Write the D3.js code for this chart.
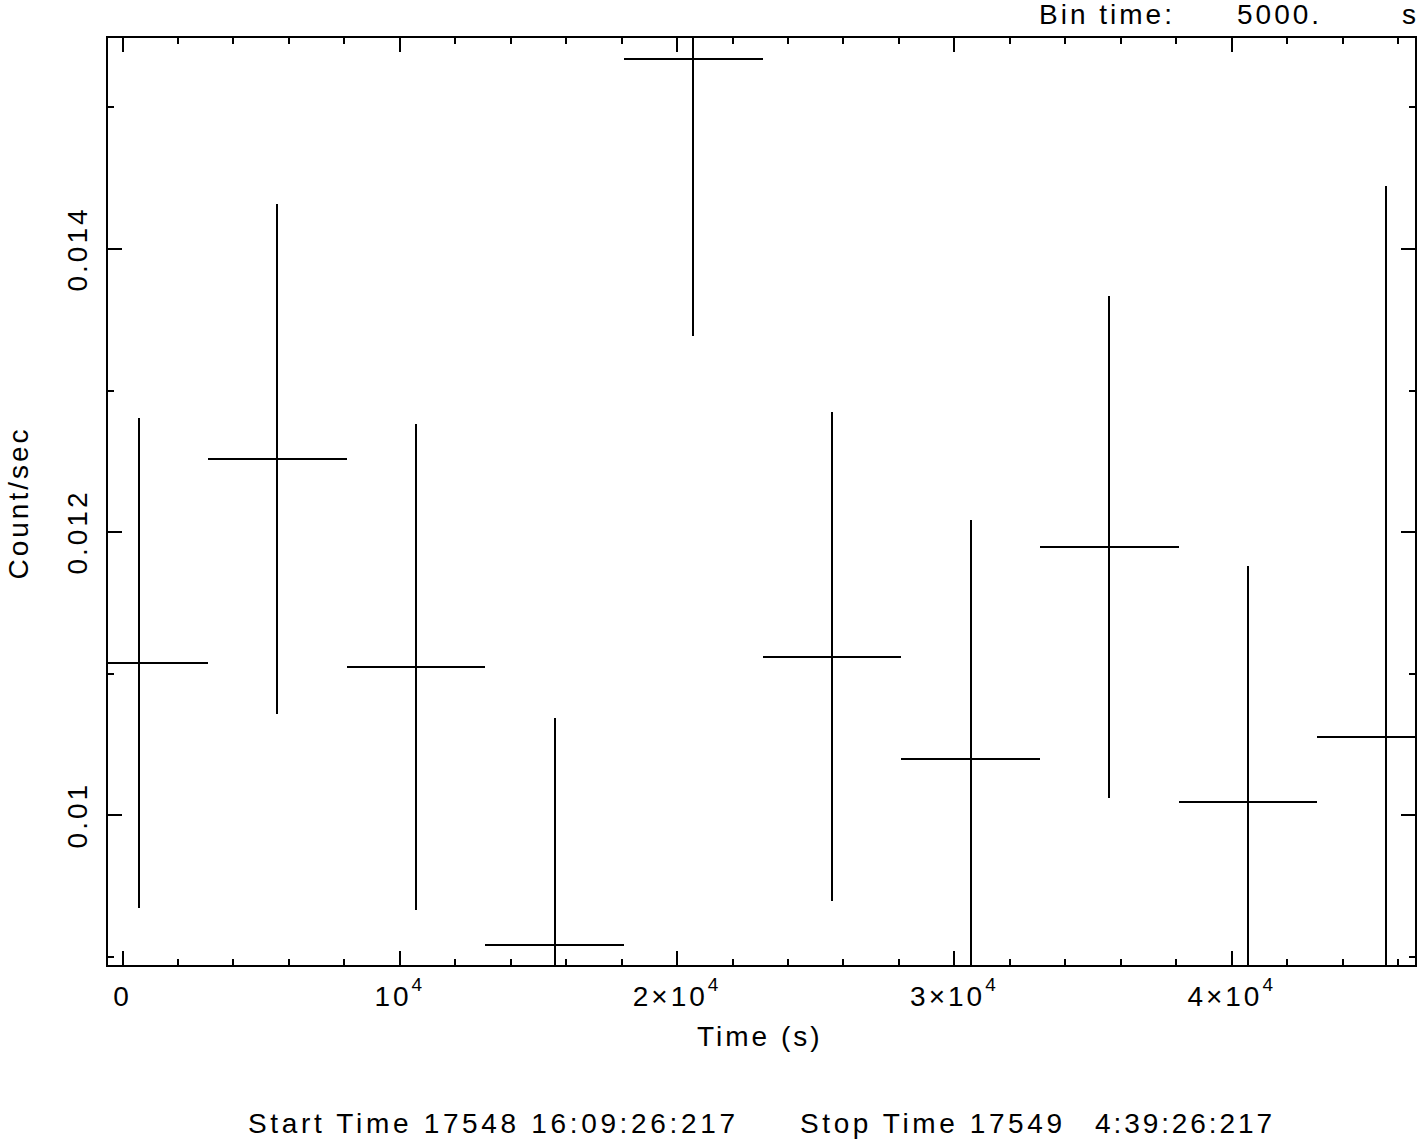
<!DOCTYPE html>
<html>
<head>
    <meta charset="utf-8">
    <title>Light curve, 5000 s bins</title>
    <style>
        body {
            margin: 0;
            background: #fff;
        }
        svg {
            display: block;
            background: #fff;
        }
        text {
            font-family: "Liberation Sans", Arial, sans-serif;
            font-size: 28px;
            letter-spacing: 3px;
            fill: #000;
        }
        .frame, .errbar, .tick line {
            stroke: #000;
            stroke-width: 2px;
            shape-rendering: crispEdges;
        }
    </style>
</head>
<body>
    <script src="https://d3js.org/d3.v7.min.js"></script>
    <script>
        // Bin centres (s), count rates and 1-sigma errors
        var binCenters = [600, 5600, 10600, 15600, 20600, 25600, 30600, 35600, 40600, 45600];
        var rates = [0.011072, 0.012513, 0.011043, 0.009082, 0.015339, 0.011116, 0.010391, 0.011892, 0.010088, 0.010549];
        var rateErrors = [0.001731, 0.001801, 0.001717, 0.001602, 0.001955, 0.001729, 0.001688, 0.001773, 0.001669, 0.003893];
        var binHalfWidth = 2500;

        // Axis limits
        var timeRange = [-541, 46664];
        var rateRange = [0.008931, 0.015494];

        // Ticks and their labels
        var xMajorTicks = [0, 10000, 20000, 30000, 40000];
        var xMinorTicks = [2000, 4000, 6000, 8000, 12000, 14000, 16000, 18000, 22000, 24000, 26000, 28000,
                           32000, 34000, 36000, 38000, 42000, 44000, 46000];
        var xTickBase = ["0", "10", "2\u00d710", "3\u00d710", "4\u00d710"];
        var xTickSup = ["", "4", "4", "4", "4"];
        var yMajorTicks = [0.010, 0.012, 0.014];
        var yMinorTicks = [0.009, 0.011, 0.013, 0.015];
        var yTickLabels = ["0.01", "0.012", "0.014"];

        var width = 1418;
        var height = 1140;
        // plot frame (note: "top" is a reserved window global, so use other names)
        var plotL = 107, plotR = 1416, plotT = 37, plotB = 966;

        var svg = d3.select("body").append("svg")
            .attr("width", width)
            .attr("height", height);

        var x = d3.scaleLinear().domain(timeRange).range([plotL, plotR]);
        var y = d3.scaleLinear().domain(rateRange).range([plotB, plotT]);

        function noDomain(g) { g.select(".domain").remove(); }

        // bottom axis, ticks pointing inwards
        var xAxisG = svg.append("g")
            .attr("transform", "translate(0," + plotB + ")")
            .call(d3.axisBottom(x).tickValues(xMajorTicks).tickSize(-15).tickPadding(20))
            .call(noDomain);
        xAxisG.selectAll(".tick text").each(function(d, i) {
            var t = d3.select(this).text(xTickBase[i]);
            if (xTickSup[i]) {
                t.append("tspan").attr("dy", -15).style("font-size", "19px").text(xTickSup[i]);
            }
        });
        svg.append("g")
            .attr("transform", "translate(0," + plotB + ")")
            .call(d3.axisBottom(x).tickValues(xMinorTicks).tickSize(-7).tickFormat(""))
            .call(noDomain);

        // top axis
        svg.append("g")
            .attr("transform", "translate(0," + plotT + ")")
            .call(d3.axisTop(x).tickValues(xMajorTicks).tickSize(-15).tickFormat(""))
            .call(noDomain);
        svg.append("g")
            .attr("transform", "translate(0," + plotT + ")")
            .call(d3.axisTop(x).tickValues(xMinorTicks).tickSize(-7).tickFormat(""))
            .call(noDomain);

        // left axis, rotated labels
        var yAxisG = svg.append("g")
            .attr("transform", "translate(" + plotL + ",0)")
            .call(d3.axisLeft(y).tickValues(yMajorTicks).tickSize(-15))
            .call(noDomain);
        yAxisG.selectAll(".tick text")
            .text(function(d, i) { return yTickLabels[i]; })
            .attr("x", 0)
            .attr("y", -20)
            .attr("dy", null)
            .attr("text-anchor", "middle")
            .attr("transform", "rotate(-90)");
        svg.append("g")
            .attr("transform", "translate(" + plotL + ",0)")
            .call(d3.axisLeft(y).tickValues(yMinorTicks).tickSize(-7).tickFormat(""))
            .call(noDomain);

        // right axis
        svg.append("g")
            .attr("transform", "translate(" + plotR + ",0)")
            .call(d3.axisRight(y).tickValues(yMajorTicks).tickSize(-15).tickFormat(""))
            .call(noDomain);
        svg.append("g")
            .attr("transform", "translate(" + plotR + ",0)")
            .call(d3.axisRight(y).tickValues(yMinorTicks).tickSize(-7).tickFormat(""))
            .call(noDomain);

        // drop the axis font defaults so the css applies
        svg.selectAll("g").attr("font-family", null).attr("font-size", null);

        // frame
        svg.append("rect")
            .attr("class", "frame")
            .attr("x", plotL)
            .attr("y", plotT)
            .attr("width", plotR - plotL)
            .attr("height", plotB - plotT)
            .attr("fill", "none");

        // data, clipped to the frame
        svg.append("clipPath").attr("id", "plotClip")
            .append("rect")
            .attr("x", plotL).attr("y", plotT)
            .attr("width", plotR - plotL).attr("height", plotB - plotT);

        var data = binCenters.map(function(t, i) {
            return { t: t, rate: rates[i], err: rateErrors[i] };
        });

        var points = svg.append("g").attr("clip-path", "url(#plotClip)")
            .selectAll("g")
            .data(data)
            .enter().append("g");

        points.append("line")
            .attr("class", "errbar")
            .attr("x1", function(d) { return Math.round(x(d.t)); })
            .attr("x2", function(d) { return Math.round(x(d.t)); })
            .attr("y1", function(d) { return y(d.rate - d.err); })
            .attr("y2", function(d) { return y(d.rate + d.err); });

        points.append("line")
            .attr("class", "errbar")
            .attr("x1", function(d) { return x(d.t - binHalfWidth); })
            .attr("x2", function(d) { return x(d.t + binHalfWidth); })
            .attr("y1", function(d) { return Math.round(y(d.rate)); })
            .attr("y2", function(d) { return Math.round(y(d.rate)); });

        // titles
        svg.append("text").attr("x", 697).attr("y", 1046).text("Time (s)");

        svg.append("text")
            .attr("text-anchor", "middle")
            .attr("transform", "translate(28,503) rotate(-90)")
            .text("Count/sec");

        svg.append("text").attr("x", 1039).attr("y", 24).text("Bin time:");
        svg.append("text").attr("x", 1237).attr("y", 24).text("5000.");
        svg.append("text").attr("x", 1402).attr("y", 24).text("s");

        svg.append("text").attr("x", 248).attr("y", 1133)
            .attr("textLength", 487).style("letter-spacing", "0px")
            .text("Start Time 17548 16:09:26:217");
        svg.append("text").attr("x", 800).attr("y", 1133)
            .attr("textLength", 262).style("letter-spacing", "0px")
            .text("Stop Time 17549");
        svg.append("text").attr("x", 1095).attr("y", 1133)
            .attr("textLength", 177).style("letter-spacing", "0px")
            .text("4:39:26:217");
    </script>
</body>
</html>
